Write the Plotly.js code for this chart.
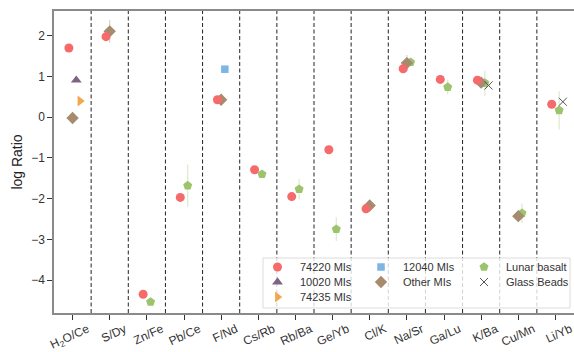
<!DOCTYPE html>
<html>
<head>
<meta charset="utf-8">
<script src="https://cdn.plot.ly/plotly-3.0.1.min.js"></script>
<style>html,body{margin:0;padding:0;background:#fff;}#chart{width:574px;height:352px;}</style>
</head>
<body>
<div id="chart"></div>
<script>
// ---- data ----
const categories = ['H2O/Ce','S/Dy','Zn/Fe','Pb/Ce','F/Nd','Cs/Rb','Rb/Ba','Ge/Yb','Cl/K','Na/Sr','Ga/Lu','K/Ba','Cu/Mn','Li/Yb'];
const tickLabels = ['H<sub>2</sub>O/Ce','S/Dy','Zn/Fe','Pb/Ce','F/Nd','Cs/Rb','Rb/Ba','Ge/Yb','Cl/K','Na/Sr','Ga/Lu','K/Ba','Cu/Mn','Li/Yb'];

const mi74220Cats = ['H2O/Ce','S/Dy','Zn/Fe','Pb/Ce','F/Nd','Cs/Rb','Rb/Ba','Ge/Yb','Cl/K','Na/Sr','Ga/Lu','K/Ba','Li/Yb'];
const mi74220Vals = [1.70, 1.98, -4.35, -1.97, 0.43, -1.29, -1.95, -0.80, -2.25, 1.19, 0.93, 0.91, 0.32];

const mi10020Cats = ['H2O/Ce'];
const mi10020Vals = [0.91];

const mi74235Cats = ['H2O/Ce'];
const mi74235Vals = [0.40];

const mi12040Cats = ['F/Nd'];
const mi12040Vals = [1.18];

const otherCats = ['H2O/Ce','S/Dy','F/Nd','Cl/K','Na/Sr','K/Ba','Cu/Mn'];
const otherVals = [-0.02, 2.11, 0.43, -2.17, 1.33, 0.85, -2.43];
const otherErr  = [0, 0.28, 0, 0, 0.20, 0, 0];

const lunarCats = ['Zn/Fe','Pb/Ce','Cs/Rb','Rb/Ba','Ge/Yb','Na/Sr','Ga/Lu','K/Ba','Cu/Mn','Li/Yb'];
const lunarVals = [-4.54, -1.68, -1.40, -1.77, -2.75, 1.35, 0.74, 0.84, -2.36, 0.17];
const lunarErr  = [0, 0.52, 0, 0.25, 0.29, 0, 0.18, 0.31, 0.24, 0.47];

const glassCats = ['K/Ba','Li/Yb'];
const glassVals = [0.78, 0.38];

// ---- layout constants ----
const W = 574, H = 352;
const M = {l: 54, r: 0, t: 11, b: 39};
const PW = W - M.l - M.r, PH = H - M.t - M.b;
const px2x = p => (p - M.l) / PW;
const py2y = p => (H - M.b - p) / PH;

const FONT = 'Arial, "Liberation Sans", sans-serif';

function xs(cats, off) { return cats.map(c => categories.indexOf(c) + off); }

const styles = {
  '74220 MIs':    {symbol: 'circle', color: '#f66a6b', size: 9, off: -0.1},
  '10020 MIs':    {symbol: 'triangle-up', color: '#7f6285', size: 9.5, off: 0.1},
  '74235 MIs':    {symbol: 'triangle-right', color: '#f4a64e', size: 9.5, off: 0.2},
  '12040 MIs':    {symbol: 'square', color: '#7db5e4', size: 7.5, off: 0.1},
  'Other MIs':    {symbol: 'diamond', color: '#a68b6f', size: 9.5, off: 0.0, errColor: 'rgba(166,139,111,0.4)'},
  'Lunar basalt': {symbol: 'pentagon', color: '#9cc46c', size: 9.5, off: 0.1, errColor: 'rgba(156,196,108,0.35)'},
  'Glass Beads':  {symbol: 'x-thin-open', color: '#555555', size: 8, off: 0.2, lineColor: '#555555', lineWidth: 1}
};

function markerOf(name) {
  const s = styles[name];
  return {symbol: s.symbol, color: s.color, size: s.size,
    line: {width: s.lineWidth || 0, color: s.lineColor || s.color}};
}

function series(name, cats, vals, err) {
  const s = styles[name];
  const t = {
    type: 'scatter', mode: 'markers', name: name,
    x: xs(cats, s.off), y: vals,
    marker: markerOf(name), showlegend: false,
    xaxis: 'x', yaxis: 'y'
  };
  if (err) t.error_y = {type: 'data', array: err, visible: true, color: s.errColor, thickness: 1.2, width: 0};
  return t;
}

const traces = [
  series('Lunar basalt', lunarCats, lunarVals, lunarErr),
  series('Other MIs', otherCats, otherVals, otherErr),
  series('12040 MIs', mi12040Cats, mi12040Vals),
  series('74235 MIs', mi74235Cats, mi74235Vals),
  series('10020 MIs', mi10020Cats, mi10020Vals),
  series('74220 MIs', mi74220Cats, mi74220Vals),
  series('Glass Beads', glassCats, glassVals)
];

// ---- legend (drawn on a pixel-space overlay axis) ----
const legendColumns = [['74220 MIs', '10020 MIs', '74235 MIs'], ['12040 MIs', 'Other MIs'], ['Lunar basalt', 'Glass Beads']];
const legCol = [277.5, 381, 484];
const legRow = [267, 282, 297];
const legTextGap = 20;
const frame = {x0: 263, x1: 570, y0: 258, y1: 308};

traces.push({
  type: 'scatter', mode: 'lines', xaxis: 'x2', yaxis: 'y2', showlegend: false, hoverinfo: 'skip',
  x: [frame.x0, frame.x1, frame.x1, frame.x0, frame.x0],
  y: [frame.y0, frame.y0, frame.y1, frame.y1, frame.y0],
  fill: 'toself', fillcolor: 'rgba(255,255,255,0.8)', line: {color: '#dcdcdc', width: 1}
});
const annotations = [];
legendColumns.forEach((col, ci) => col.forEach((name, ri) => {
  traces.push({type: 'scatter', mode: 'markers', xaxis: 'x2', yaxis: 'y2', showlegend: false, hoverinfo: 'skip',
    name: name, x: [legCol[ci]], y: [legRow[ri]], marker: markerOf(name)});
  annotations.push({xref: 'paper', yref: 'paper', x: px2x(legCol[ci] + legTextGap), y: py2y(legRow[ri]),
    xanchor: 'left', yanchor: 'middle', showarrow: false, text: name,
    font: {family: FONT, size: 11, color: '#333'}});
}));

const shapes = [];
for (let i = 0; i < categories.length - 1; i++) {
  shapes.push({type: 'line', xref: 'x', yref: 'paper', x0: i + 0.5, x1: i + 0.5, y0: 0, y1: 1,
    line: {color: '#222', width: 1, dash: '4px,2.5px'}, layer: 'below'});
}

const layout = {
  width: W, height: H,
  margin: M,
  paper_bgcolor: '#fff', plot_bgcolor: '#fff',
  font: {family: FONT, size: 12, color: '#333'},
  showlegend: false,
  xaxis: {
    range: [-0.5, 13.5], tickmode: 'array',
    tickvals: categories.map((c, i) => i), ticktext: tickLabels,
    tickangle: -25, ticklabelshift: 15, ticklabelstandoff: -2, ticklabeloverflow: 'allow',
    showgrid: false, zeroline: false,
    showline: true, linecolor: '#8a8a8a', linewidth: 1.6, mirror: true,
    ticks: 'outside', ticklen: 5, tickwidth: 1, tickcolor: '#333',
    tickfont: {family: FONT, size: 12, color: '#333'}
  },
  yaxis: {
    range: [-4.81, 2.61], tickvals: [-4, -3, -2, -1, 0, 1, 2],
    ticktext: ['\u22124', '\u22123', '\u22122', '\u22121', '0', '1', '2'],
    showgrid: false, zeroline: false,
    showline: true, linecolor: '#8a8a8a', linewidth: 1.6,
    ticks: 'outside', ticklen: 5, tickwidth: 1, tickcolor: '#333',
    tickfont: {family: FONT, size: 12, color: '#333'},
    title: {text: 'log Ratio', font: {family: FONT, size: 14, color: '#222'}, standoff: 5}
  },
  xaxis2: {overlaying: 'x', anchor: 'y2', range: [M.l, W - M.r], visible: false, showgrid: false, zeroline: false},
  yaxis2: {overlaying: 'y', anchor: 'x2', range: [H - M.b, M.t], visible: false, showgrid: false, zeroline: false},
  shapes: shapes,
  annotations: annotations
};

Plotly.newPlot('chart', traces, layout, {displayModeBar: false, staticPlot: true});
</script>
</body>
</html>
